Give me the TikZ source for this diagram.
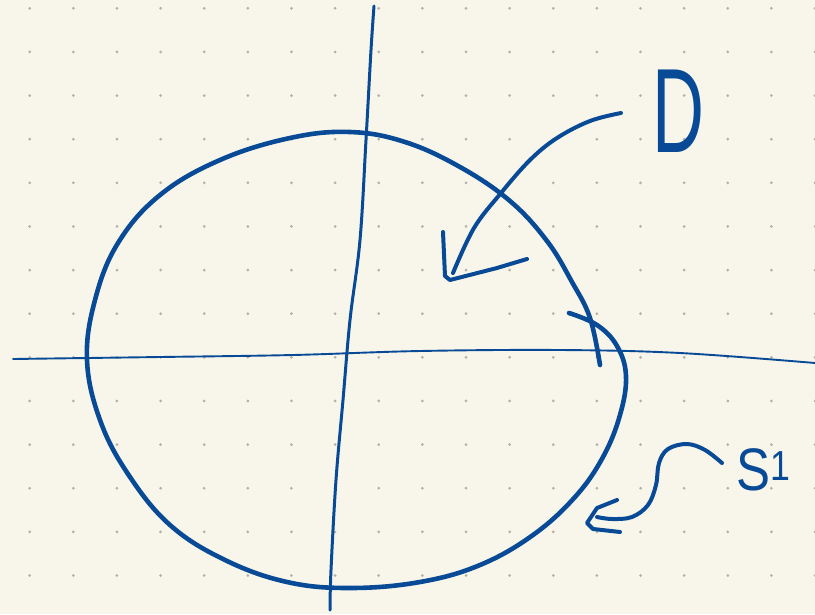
\documentclass[tikz,border=0pt]{standalone}
\usepackage{fontspec}
\setmainfont{Liberation Sans}
\definecolor{paper}{RGB}{248,246,235}
\definecolor{ink}{RGB}{8,74,150}
\definecolor{dotc}{RGB}{178,176,168}
\tikzset{
  pen/.style={draw=ink, line cap=round, line join=round},
  thickpen/.style={pen, line width=4.6pt},
  arrowpen/.style={pen, line width=4pt},
  axispen/.style={pen, line width=1.9pt},
  vaxispen/.style={pen, line width=3pt},
  label/.style={text=ink, inner sep=0pt, outer sep=0pt}
}
\begin{document}
\begin{tikzpicture}[x=1pt,y=-1pt]
\fill[paper] (0,0) rectangle (815,614);
\useasboundingbox (0,0) rectangle (815,614);
% dot grid
\foreach \i in {0,...,18}{
  \foreach \j in {0,...,13}{
    \fill[dotc] ({29.7+\i*43.63},{8.3+\j*43.63}) circle (1.5pt);
  }
}
% horizontal axis
\draw[axispen] plot[smooth, tension=0.6] coordinates {(13,359) (160,357) (293,355) (420,351) (560,350) (680,353) (815,363)};
% vertical axis
\draw[vaxispen] plot[smooth, tension=0.6] coordinates {(374,6) (371,50) (366,140) (360,240) (350,320) (343,400) (336,480) (331,570) (330,610)};
% circle
\draw[thickpen] plot[smooth, tension=0.65] coordinates {(569,313) (597,325) (617,346) (626,376) (620,415) (603,457) (575,497) (533,535) (480,565) (420,582) (350,588) (287,582) (225,560) (170,525) (128,474) (100,420) (87,360) (95,300) (118,243) (160,195) (220,160) (290,138) (350,132) (405,142) (460,167) (510,201) (547,241) (572,282) (590,318) (600,365)};
% D arrow
\coordinate (dstart) at (621,113);
\coordinate (dtip) at (453,273);
\draw[arrowpen] plot[smooth, tension=0.6] coordinates {(dstart) (590,121) (557,138) (530,160) (501,193) (474,228) (dtip)};
\draw[arrowpen] (443,232) -- (445,276) -- (450,280) -- (497,268) -- (527,259);
% S1 arrow
\coordinate (sstart) at (722,463);
\coordinate (stip) at (597,517);
\draw[arrowpen] plot[smooth, tension=0.6] coordinates {(sstart) (705,450) (687,444) (668,449) (659,463) (656,485) (648,505) (632,517) (612,519) (stip)};
\draw[arrowpen] (617,500) -- (597,508) -- (587,523) -- (593,529) -- (620,532);
% labels
\node[label, anchor=base west, font=\fontsize{120}{120}\selectfont, xscale=0.6] (D) at (652,152) {D};
\node[label, anchor=base west, font=\fontsize{60}{60}\selectfont, xscale=0.85] (S) at (736,490) {S\textsuperscript{1}};
\end{tikzpicture}
\end{document}
